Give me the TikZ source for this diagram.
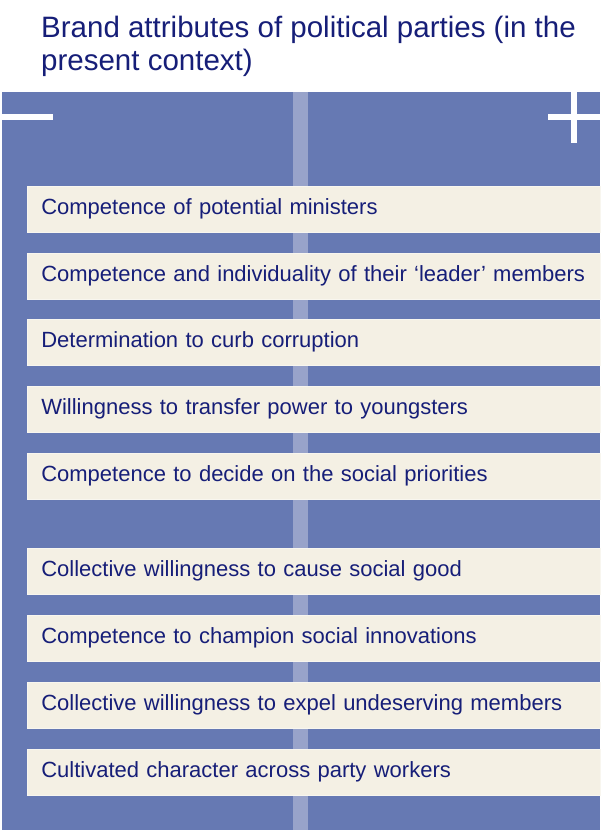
\documentclass[tikz,border=0pt]{standalone}
\usepackage{fontspec}
\setmainfont{Liberation Sans}
\definecolor{panelblue}{RGB}{102,121,179}
\definecolor{stripblue}{RGB}{152,163,202}
\definecolor{creambar}{RGB}{244,240,228}
\definecolor{navytext}{RGB}{22,30,120}
\begin{document}
\begin{tikzpicture}[x=1pt,y=1pt,
  barbox/.style={anchor=west, fill=creambar, draw=creambar!60!white, line width=0.6pt,
    minimum height=46pt, text width=545pt, inner xsep=14pt, inner ysep=0pt, align=left,
    text=navytext, font=\fontsize{22}{26}\selectfont},
  whitemark/.style={fill=white, draw=none},
  titletext/.style={anchor=north west, inner sep=0pt, align=left, text=navytext,
    font=\fontsize{29.5}{33}\selectfont}]
\useasboundingbox (0,0) rectangle (600,832);
\fill[white] (0,0) rectangle (600,832);
% title
\node[titletext] (title) at (41,816) {Brand attributes of political parties (in the\\present context)};
% panel
\node[fill=panelblue, draw=none, inner sep=0pt, minimum width=598pt, minimum height=738pt, anchor=south west] (panel) at (2,2) {};
\node[fill=stripblue, draw=none, inner sep=0pt, minimum width=15pt, minimum height=738pt, anchor=south west] (strip) at (293,2) {};
% minus and plus
\fill[whitemark] (2,712) rectangle (53,718);
\fill[whitemark] (548,712) rectangle (600,718);
\fill[whitemark] (571,689) rectangle (577,740);
% bars
\node[barbox] (b1) at (27,623) {\strut Competence of potential ministers};
\node[barbox] (b2) at (27,556) {\strut Competence and individuality of their ‘leader’ members};
\node[barbox] (b3) at (27,490) {\strut Determination to curb corruption};
\node[barbox] (b4) at (27,423) {\strut Willingness to transfer power to youngsters};
\node[barbox] (b5) at (27,356) {\strut Competence to decide on the social priorities};
\node[barbox] (b6) at (27,261) {\strut Collective willingness to cause social good};
\node[barbox] (b7) at (27,194) {\strut Competence to champion social innovations};
\node[barbox] (b8) at (27,127) {\strut Collective willingness to expel undeserving members};
\node[barbox] (b9) at (27,60) {\strut Cultivated character across party workers};
\end{tikzpicture}
\end{document}
